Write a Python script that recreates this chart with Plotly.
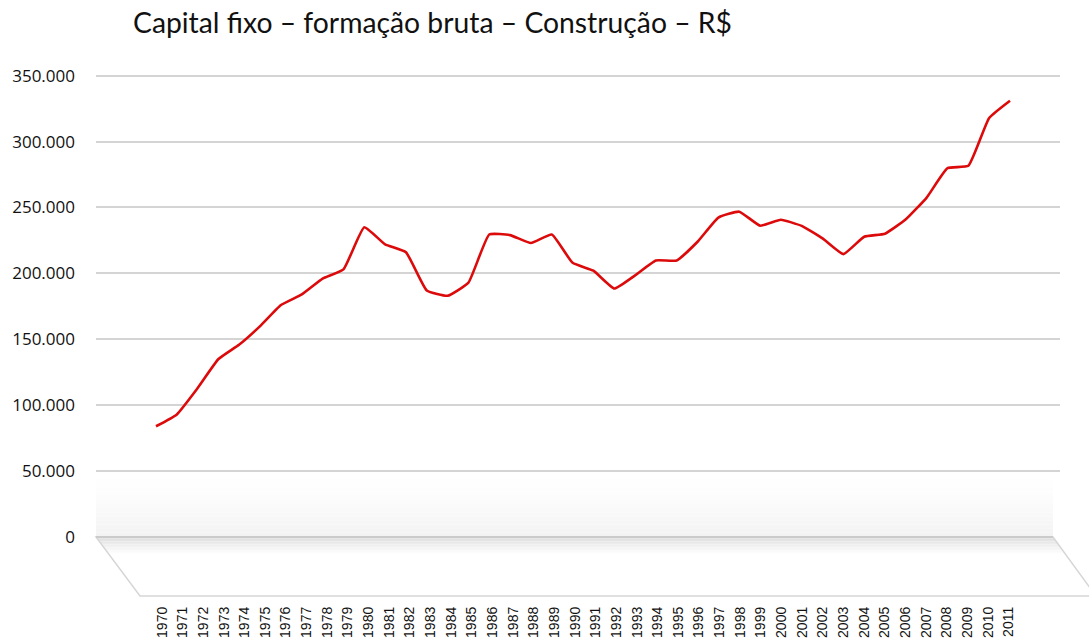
import plotly.graph_objects as go

# ---- data ----
years = list(range(1970, 2012))
values = [84000, 93000, 113000, 135000, 146000, 160000, 176000, 184000, 196000, 203000,
          235000, 222000, 216000, 187000, 183000, 193000, 229500, 229000, 223000, 229500,
          208000, 202000, 188500, 198500, 209800, 209800, 224000, 242300, 246800, 236200,
          240700, 236000, 226500, 214600, 227800, 230100, 241000, 257500, 279800, 281600,
          317900, 331000]
tick_labels = [str(y) for y in years]
y_ticks = [0, 50000, 100000, 150000, 200000, 250000, 300000, 350000]
title_text = "Capital fixo – formação bruta – Construção – R$"

# ---- geometry (pixels) ----
W, H = 1089, 639
Y_TOP = 352000
k = (537 - 76) / 350000.0
L, R, B = 96, 1060, 537
T = B - Y_TOP * k


def px(x):
    return (x - L) / (R - L)


def py(y):
    return (B - y) / (B - T)


fig = go.Figure()
fig.add_trace(go.Scatter(x=years, y=values, mode="lines",
                         line=dict(color="#dc0a0a", width=2.6, shape="spline", smoothing=0.4),
                         showlegend=False, hoverinfo="x+y"))
# helper trace for the label axis (invisible)
fig.add_trace(go.Scatter(x=years, y=values, mode="lines", xaxis="x2", opacity=0,
                         line=dict(width=0), showlegend=False, hoverinfo="skip"))

shapes = []
# back wall bottom band gradient (between 50.000 gridline and floor)
N = 16
y0, y1 = 471, 537
for i in range(N):
    a = y0 + (y1 - y0) * i / N
    b = y0 + (y1 - y0) * (i + 1) / N
    c = int(round(255 - 12 * (i / (N - 1)) ** 1.5))
    shapes.append(dict(type="rect", xref="paper", yref="paper",
                       x0=px(L), x1=px(1053), y0=py(b), y1=py(a),
                       fillcolor=f"rgb({c},{c},{c})", line=dict(width=0), layer="below"))

# floor
sl = (140 - 96) / (596 - 537)
sr = (1096 - 1053) / (596 - 537)


def floor_path(ya, yb):
    xa_l = 96 + (ya - 537) * sl
    xb_l = 96 + (yb - 537) * sl
    xa_r = 1053 + (ya - 537) * sr
    xb_r = 1053 + (yb - 537) * sr
    return (f"M {px(xa_l)},{py(ya)} L {px(xa_r)},{py(ya)} "
            f"L {px(xb_r)},{py(yb)} L {px(xb_l)},{py(yb)} Z")


shapes.append(dict(type="path", xref="paper", yref="paper", path=floor_path(537, 596),
                   fillcolor="white", line=dict(width=0), layer="below"))
M = 12
for i in range(M):
    a = 537 + 18 * i / M
    b = 537 + 18 * (i + 1) / M
    c = int(round(220 + 35 * (i / (M - 1)) ** 0.8))
    shapes.append(dict(type="path", xref="paper", yref="paper", path=floor_path(a, b),
                       fillcolor=f"rgb({c},{c},{c})", line=dict(width=0), layer="below"))
# floor outline
shapes.append(dict(type="path", xref="paper", yref="paper", path=floor_path(537, 596),
                   fillcolor="rgba(0,0,0,0)", line=dict(color="#d6d6d6", width=1.5), layer="below"))
shapes.append(dict(type="line", xref="paper", yref="paper", x0=px(96), x1=px(1053),
                   y0=py(537), y1=py(537), line=dict(color="#cbcbcb", width=2), layer="below"))

fig.update_layout(
    width=W, height=H,
    margin=dict(l=L, r=W - R, t=T, b=H - B, autoexpand=False),
    paper_bgcolor="white", plot_bgcolor="white",
    separators=",.",
    title=dict(text=title_text, x=133 / W, xanchor="left", xref="container",
               y=1 - 23 / H, yanchor="middle", yref="container",
               font=dict(family="Lato", size=28.3, color="#111111")),
    xaxis=dict(range=[1970 - 60 / 20.83, 2011 + 50 / 20.83], showgrid=False, zeroline=False,
               showticklabels=False, showline=False, ticks=""),
    xaxis2=dict(range=[1970 - 66 / 20.65, 2011 + 51.3 / 20.65], overlaying="x", anchor="y",
                side="bottom", showgrid=False, zeroline=False, showline=False, ticks="",
                tickmode="array", tickvals=years, ticktext=tick_labels, tickangle=-90,
                ticklabelstandoff=66,
                tickfont=dict(family="Liberation Sans", size=14, color="#111111")),
    yaxis=dict(range=[0, Y_TOP], tickmode="array", tickvals=y_ticks, tickformat=",d",
               showgrid=True, gridcolor="#d4d4d4", gridwidth=1.6, zeroline=False,
               showline=False, ticks="", ticklabelstandoff=20,
               tickfont=dict(family="Open Sans", size=17, color="#111111")),
    shapes=shapes,
)

fig.write_html("out.html", config={"displayModeBar": False},
               post_script="document.body.style.margin='0';document.body.style.overflow='hidden';")
